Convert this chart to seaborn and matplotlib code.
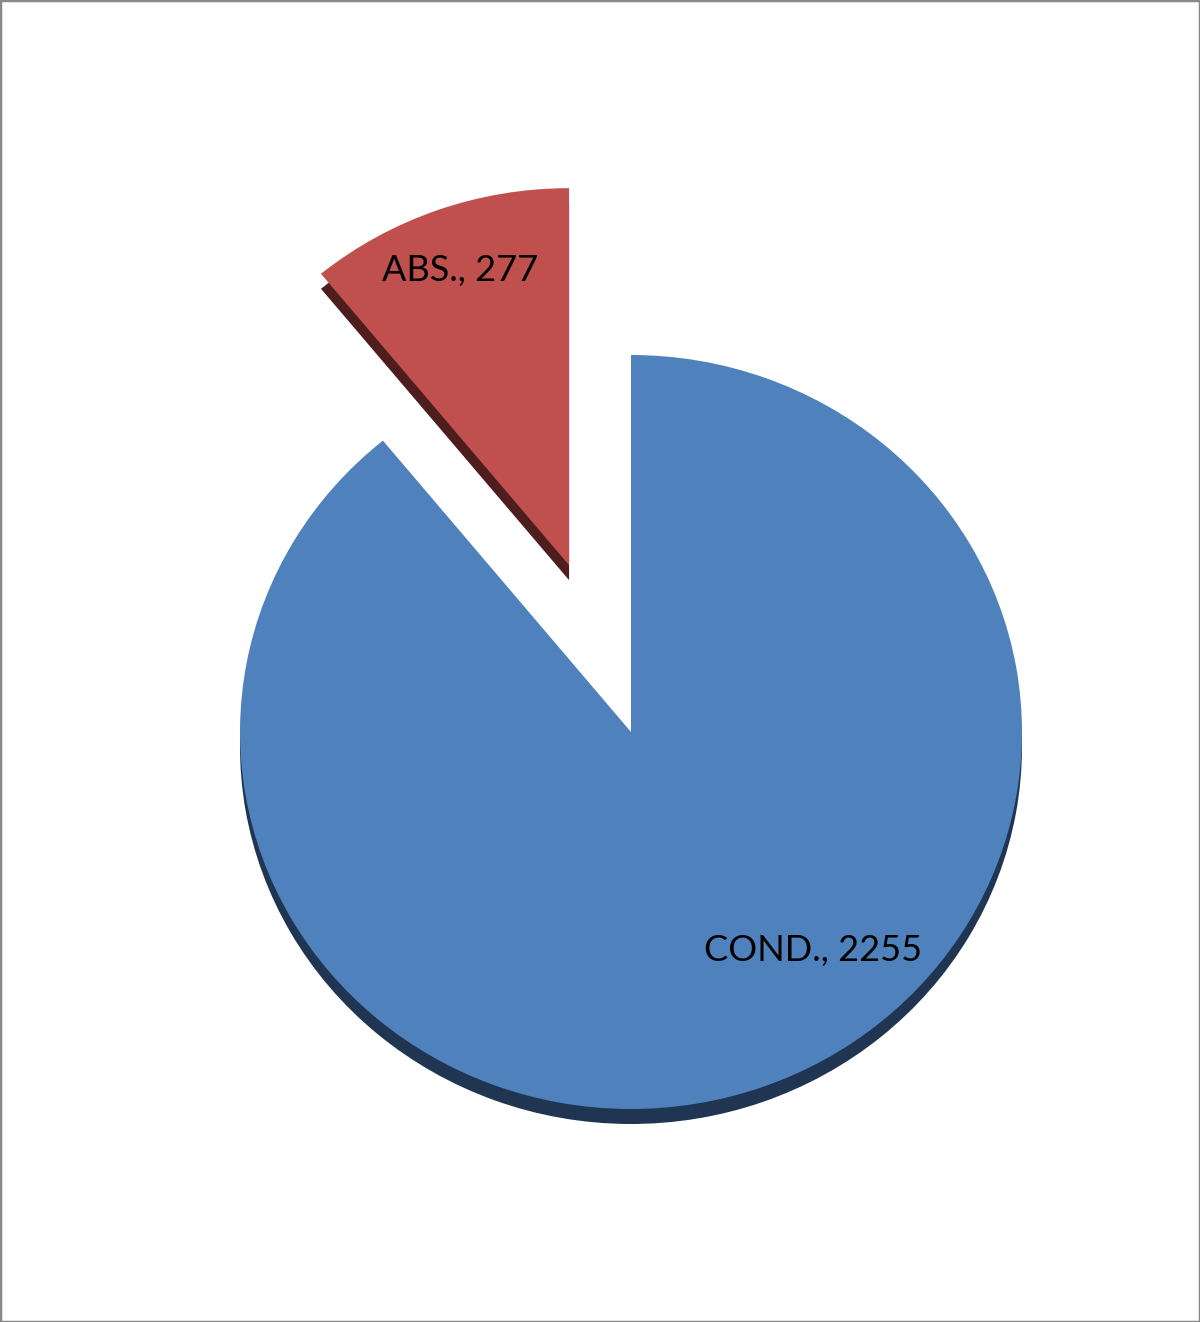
import matplotlib
matplotlib.use('Agg')
import matplotlib.pyplot as plt
from matplotlib.patches import Rectangle
import seaborn as sns

# data
labels = ['COND.', 'ABS.']
counts = [2255, 277]
colors = ['#4F81BD', '#C0504D']
side_colors = ['#1F3552', '#4E1E1E']
explode_frac = [0, 0.47]

# label placement (pixels from top-left)
label_pos = [(813, 950), (460, 270)]

sns.set_theme(style='white')
plt.rcParams['font.family'] = ['Lato', 'DejaVu Sans']

W, H = 1200, 1322
fig = plt.figure(figsize=(12, 13.22), dpi=100)
ax = fig.add_axes([0, 0, 1, 1])

# slightly flattened pie: x radius 391px, y radius 377px
rx, ry = 391, 377
ys = ry / rx
cx, cy = 631, (H - 732) / ys
depth = 15 / ys
# pie explode is in data units, not a fraction of the radius
explode = [e * rx for e in explode_frac]

# side of the 3D slab first, then the top surface
ax.pie(counts, colors=side_colors, explode=explode, startangle=90,
       counterclock=False, radius=rx, center=(cx, cy - depth),
       wedgeprops=dict(linewidth=0))
ax.pie(counts, colors=colors, explode=explode, startangle=90,
       counterclock=False, radius=rx, center=(cx, cy),
       wedgeprops=dict(linewidth=0))

ax.set_aspect('auto')
ax.set_xlim(0, W)
ax.set_ylim(0, H / ys)
ax.axis('off')

for lab, val, (px, py) in zip(labels, counts, label_pos):
    fig.text(px / W, 1 - py / H, f'{lab}, {val}', ha='center', va='center',
             fontsize=26, color='black')

fig.patches.append(Rectangle((0, 0), 1, 1, transform=fig.transFigure,
                             fill=False, edgecolor='#888888', linewidth=2.5))

fig.savefig('out.png', dpi=100)
